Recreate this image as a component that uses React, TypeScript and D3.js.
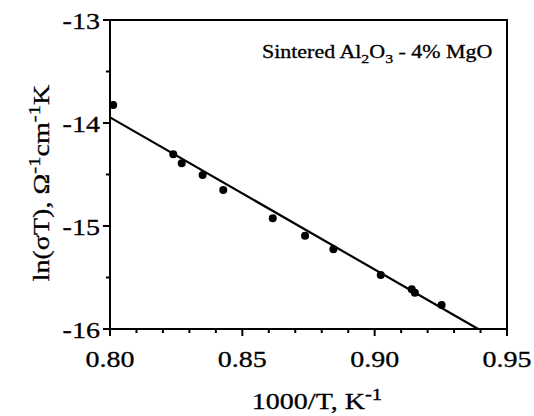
import React from "react";
import * as d3 from "d3";

const xTickValues = [0.8, 0.85, 0.9, 0.95];
const xTickLabels = ["0.80", "0.85", "0.90", "0.95"];
const yTickValues = [-13, -14, -15, -16];
const yTickLabels = ["-13", "-14", "-15", "-16"];
const xMinorTicks = [0.81, 0.82, 0.83, 0.84, 0.86, 0.87, 0.88, 0.89, 0.91, 0.92, 0.93, 0.94];
const yMinorTicks = [-13.5, -14.5, -15.5];

const invT = [0.8012, 0.8239, 0.8271, 0.835, 0.8428, 0.8615, 0.8737, 0.8844, 0.9023, 0.914, 0.9152, 0.9253];
const lnSigmaT = [-13.825, -14.304, -14.391, -14.505, -14.65, -14.925, -15.094, -15.226, -15.476, -15.615, -15.648, -15.767];

const fitX = [0.8, 0.9391];
const fitY = [-13.945, -16.0];

const FONT = "'Liberation Serif', 'Times New Roman', serif";
const SX = 1.22;

function ST(props: {
  x: number;
  y: number;
  rotate?: number;
  anchor?: string;
  size: number;
  children: React.ReactNode;
}) {
  const { x, y, rotate = 0, anchor = "start", size, children } = props;
  return (
    <g transform={`translate(${x},${y}) rotate(${rotate}) scale(${SX},1)`}>
      <text
        x={0}
        y={0}
        textAnchor={anchor}
        fontFamily={FONT}
        fontSize={size}
        fill="#000"
        stroke="#000"
        strokeWidth={0.3}
      >
        {children}
      </text>
    </g>
  );
}

export default function App() {
  const width = 534;
  const height = 416;
  const x = d3.scaleLinear().domain([0.8, 0.95]).range([110, 507]);
  const y = d3.scaleLinear().domain([-16, -13]).range([329, 20]);

  const points = invT.map((v, i) => ({ x: v, y: lnSigmaT[i] }));
  const fit = fitX.map((v, i) => [v, fitY[i]] as [number, number]);
  const lineGen = d3
    .line<[number, number]>()
    .x((d) => x(d[0]))
    .y((d) => y(d[1]));

  const x0 = x(0.8);
  const x1 = x(0.95);
  const yTop = y(-13);
  const yBot = y(-16);

  return (
    <svg
      width={width}
      height={height}
      style={{ position: "absolute", left: 0, top: 0, background: "#fff" }}
    >
      <rect x={0} y={0} width={width} height={height} fill="#fff" />
      <rect
        x={x0}
        y={yTop}
        width={x1 - x0}
        height={yBot - yTop}
        fill="none"
        stroke="#000"
        strokeWidth={2}
      />
      {xTickValues.map((v, i) => (
        <g key={"xt" + i}>
          <line x1={x(v)} x2={x(v)} y1={yBot} y2={yBot + 7} stroke="#000" strokeWidth={2} />
          <ST x={x(v)} y={367} anchor="middle" size={23}>
            {xTickLabels[i]}
          </ST>
        </g>
      ))}
      {xMinorTicks.map((v, i) => (
        <line key={"xm" + i} x1={x(v)} x2={x(v)} y1={yBot} y2={yBot + 4} stroke="#000" strokeWidth={2} />
      ))}
      {yTickValues.map((v, i) => (
        <g key={"yt" + i}>
          <line x1={x0 - 7} x2={x0} y1={y(v)} y2={y(v)} stroke="#000" strokeWidth={2} />
          <ST x={x0 - 10} y={y(v) + 9} anchor="end" size={23}>
            {yTickLabels[i]}
          </ST>
        </g>
      ))}
      {yMinorTicks.map((v, i) => (
        <line key={"ym" + i} x1={x0 - 4} x2={x0} y1={y(v)} y2={y(v)} stroke="#000" strokeWidth={2} />
      ))}
      <path d={lineGen(fit) || ""} fill="none" stroke="#000" strokeWidth={2.2} />
      {points.map((p, i) => (
        <circle key={"p" + i} cx={x(p.x)} cy={y(p.y)} r={4} fill="#000" />
      ))}
      <ST x={262} y={58} size={18}>
        Sintered Al
        <tspan fontSize={13} dy={5}>2</tspan>
        <tspan dy={-5}>O</tspan>
        <tspan fontSize={13} dy={5}>3</tspan>
        <tspan dy={-5}> - 4% MgO</tspan>
      </ST>
      <ST x={317} y={409} anchor="middle" size={23}>
        1000/T, K
        <tspan fontSize={17} dy={-9}>-1</tspan>
      </ST>
      <ST x={49} y={183} rotate={-90} anchor="middle" size={23}>
        ln(σT), Ω
        <tspan fontSize={17} dy={-9}>-1</tspan>
        <tspan dy={9}>cm</tspan>
        <tspan fontSize={17} dy={-9}>-1</tspan>
        <tspan dy={9}>K</tspan>
      </ST>
    </svg>
  );
}
